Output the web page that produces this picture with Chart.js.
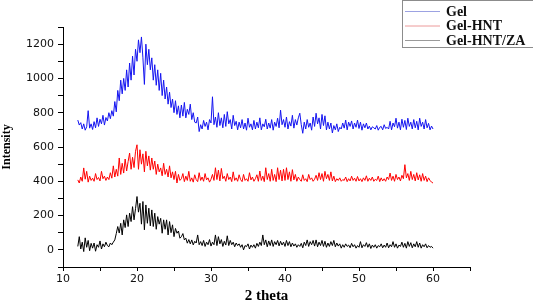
<!DOCTYPE html>
<html>
<head>
<meta charset="utf-8">
<script src="https://cdn.jsdelivr.net/npm/chart.js@4/dist/chart.umd.min.js"></script>
<style>
  html, body { margin: 0; padding: 0; background: #fff; }
  canvas { display: block; }
</style>
</head>
<body>
<canvas id="c" width="533" height="305"></canvas>
<script>
// ---- data ----
const seriesNames = ["Gel", "Gel-HNT", "Gel-HNT/ZA"];
const thetaStart = 12;   // first sampled 2θ
const thetaStep = 0.2;   // sampling step of 2θ

const gel = [
  757, 728, 742, 705, 735, 698, 718, 812, 710, 735,
  702, 748, 712, 770, 720, 762, 735, 785, 728, 772,
  752, 800, 765, 812, 780, 865, 805, 930, 870, 990,
  910, 1000, 930, 1050, 950, 1090, 990, 1130, 1020, 1170,
  1100, 1225, 1150, 1242, 1120, 965, 1200, 1080, 1170, 1050,
  1120, 990, 1080, 960, 1050, 930, 1030, 900, 990, 880,
  950, 850, 920, 830, 880, 800, 870, 790, 840, 770,
  845, 780, 860, 770, 820, 790, 850, 760, 800, 745,
  740, 775, 690, 730, 705, 755, 720, 745, 700, 760,
  740, 893, 730, 775, 715, 800, 725, 770, 712, 790,
  720, 806, 735, 760, 705, 785, 725, 750, 700, 745,
  712, 760, 705, 740, 698, 768, 715, 735, 700, 755,
  705, 745, 712, 770, 700, 735, 718, 762, 705, 740,
  710, 760, 698, 745, 720, 768, 712, 815, 730, 760,
  715, 775, 705, 748, 722, 785, 710, 760, 728, 770,
  797, 730, 680, 745, 705, 760, 715, 740, 698, 775,
  720, 797, 735, 770, 705, 790, 725, 782, 700, 745,
  705, 740, 682, 725, 700, 735, 690, 715, 705, 740,
  710, 757, 700, 745, 720, 752, 705, 740, 715, 757,
  708, 745, 698, 735, 712, 740, 705, 722, 700, 718,
  712, 705, 725, 698, 715, 720, 700, 730, 708, 715,
  705, 750, 700, 740, 718, 768, 710, 745, 700, 762,
  715, 755, 702, 768, 720, 745, 705, 760, 712, 750,
  700, 768, 720, 745, 705, 760, 712, 738, 700, 722,
  705
];

const gelHNT = [
  408, 390, 425, 400, 478, 412, 458, 395, 430, 405,
  418, 400, 445, 410, 422, 402, 458, 415, 430, 405,
  425, 410, 450, 418, 490, 425, 470, 430, 536, 440,
  505, 448, 530, 460, 515, 565, 470, 540, 480, 575,
  613, 470, 584, 500, 560, 455, 575, 490, 548, 465,
  536, 470, 518, 440, 500, 455, 478, 432, 505, 440,
  470, 425, 490, 420, 455, 410, 458, 390, 440, 405,
  415, 445, 398, 430, 405, 458, 400, 420, 395, 438,
  410, 398, 450, 405, 425, 400, 445, 408, 420, 395,
  412, 440, 405, 479, 410, 465, 402, 475, 415, 430,
  400, 445, 410, 425, 398, 455, 405, 420, 400, 438,
  410, 398, 440, 405, 415, 400, 450, 408, 425, 400,
  415, 438, 400, 460, 405, 430, 398, 479, 410, 445,
  400, 470, 405, 440, 398, 479, 410, 465, 402, 470,
  405, 479, 410, 455, 400, 468, 408, 440, 400, 425,
  410, 400, 438, 405, 415, 398, 440, 410, 420, 400,
  412, 435, 405, 450, 410, 445, 400, 458, 415, 440,
  405, 455, 402, 430, 398, 415, 405, 420, 400, 410,
  405, 425, 398, 415, 402, 430, 405, 418, 400, 428,
  402, 415, 398, 420, 405, 432, 400, 418, 405, 425,
  400, 412, 405, 430, 398, 420, 402, 415, 400, 425,
  410, 448, 405, 430, 400, 440, 410, 425, 402, 435,
  415, 497, 420, 445, 405, 458, 410, 440, 402, 450,
  408, 438, 400, 445, 405, 430, 398, 420, 405, 395,
  390
];

const gelHNTZA = [
  20, 77, 5, 45, -10, 70, 15, 55, -5, 38,
  10, 40, -8, 30, 15, 52, 5, 35, 18, 45,
  25, 18, 40, 30, 45, 58, 95, 136, 98, 155,
  87, 175, 130, 204, 136, 214, 165, 252, 175, 240,
  311, 220, 272, 150, 282, 117, 262, 155, 243, 140,
  233, 136, 214, 120, 194, 150, 184, 97, 175, 120,
  175, 87, 165, 100, 146, 77, 125, 97, 110, 68,
  77, 95, 58, 68, 39, 60, 35, 58, 29, 50,
  40, 87, 30, 48, 25, 55, 20, 45, 30, 60,
  22, 45, 30, 87, 25, 77, 35, 60, 20, 50,
  28, 82, 25, 55, 30, 45, 18, 40, 25, 35,
  15, 30, 0, 25, 19, 35, 5, 28, 15, 30,
  10, 38, 20, 45, 25, 87, 30, 58, 18, 52,
  25, 58, 20, 48, 30, 55, 23, 50, 28, 45,
  20, 55, 25, 48, 18, 40, 22, 35, 15, 30,
  20, 38, 12, 45, 25, 58, 20, 48, 30, 55,
  22, 58, 18, 45, 25, 55, 20, 50, 15, 40,
  20, 48, 25, 55, 18, 40, 22, 35, 10, 30,
  15, 35, 20, 28, 12, 38, 18, 30, 10, 25,
  15, 48, 12, 30, 20, 42, 15, 35, 8, 28,
  15, 30, 10, 25, 18, 35, 12, 28, 15, 40,
  12, 30, 18, 48, 15, 35, 10, 28, 20, 45,
  15, 38, 10, 48, 20, 42, 12, 35, 18, 48,
  15, 40, 10, 30, 18, 35, 12, 25, 15, 20,
  10
];

const xTickLabels = [10, 20, 30, 40, 50, 60];
const yTickLabels = [0, 200, 400, 600, 800, 1000, 1200];

// sampling grid of the diffractometer (x positions of the readings)
const twoTheta = gel.map((_, i) => +(thetaStart + i * thetaStep).toFixed(1));

const toPoints = arr => arr.map((v, i) => ({ x: twoTheta[i], y: v }));

// ---- styles ----
const lineColors = ["#1414f0", "#ff0000", "#000000"];
const legendLineColors = ["#9ca2e2", "#ec9a9a", "#9a9a9a"];

const legendBox = {
  id: "legendBox",
  afterDraw(chart) {
    const ctx = chart.ctx;
    ctx.save();
    ctx.strokeStyle = "#8c8c8c";
    ctx.lineWidth = 1;
    ctx.strokeRect(402.5, 0.5, 140, 47);
    const ys = [11, 25.5, 40];
    ctx.font = "bold 14px 'Liberation Serif', 'Times New Roman', serif";
    ctx.textBaseline = "middle";
    ctx.textAlign = "left";
    chart.data.datasets.forEach((ds, i) => {
      ctx.strokeStyle = legendLineColors[i];
      ctx.beginPath();
      ctx.moveTo(405, ys[i] + 0.5);
      ctx.lineTo(440, ys[i] + 0.5);
      ctx.stroke();
      ctx.fillStyle = "#111";
      ctx.fillText(ds.label, 446, ys[i] + 1);
    });
    ctx.restore();
  }
};

const tickFont = { family: "'DejaVu Sans', sans-serif", size: 11 };

new Chart(document.getElementById("c"), {
  type: "line",
  data: {
    datasets: [
      { label: seriesNames[0], data: toPoints(gel), borderColor: lineColors[0] },
      { label: seriesNames[1], data: toPoints(gelHNT), borderColor: lineColors[1] },
      { label: seriesNames[2], data: toPoints(gelHNTZA), borderColor: lineColors[2] }
    ].map(d => Object.assign(d, { borderWidth: 1, pointRadius: 0, tension: 0, fill: false }))
  },
  options: {
    responsive: false,
    devicePixelRatio: 1,
    animation: false,
    layout: { padding: { top: 27, right: 63, left: 0, bottom: 0 } },
    plugins: { legend: { display: false }, tooltip: { enabled: false } },
    scales: {
      x: {
        type: "linear",
        min: 10, max: 65,
        afterFit(s) { s.height = 38; },
        ticks: {
          stepSize: 5,
          autoSkip: false,
          maxRotation: 0,
          padding: 2,
          color: "#111",
          font: tickFont,
          callback: v => xTickLabels.includes(v) ? String(v) : ""
        },
        grid: { drawOnChartArea: false, drawTicks: true, tickLength: 4, color: "#000" },
        border: { display: true, color: "#000", width: 1 },
        title: {
          display: true, text: "2 theta", color: "#000",
          font: { family: "'Liberation Serif', 'Times New Roman', serif", size: 15, weight: "bold" },
          padding: { top: 0, bottom: 0 }
        }
      },
      y: {
        type: "linear",
        min: -100, max: 1300,
        afterFit(s) { s.width = 63; },
        ticks: {
          stepSize: 100,
          autoSkip: false,
          padding: 4,
          color: "#111",
          font: tickFont,
          callback: v => yTickLabels.includes(v) ? String(v) : ""
        },
        grid: { drawOnChartArea: false, drawTicks: true, tickLength: 5, color: "#000" },
        border: { display: true, color: "#000", width: 1 },
        title: {
          display: true, text: "Intensity", color: "#000",
          font: { family: "'Liberation Serif', 'Times New Roman', serif", size: 12, weight: "bold" },
          padding: { top: 0, bottom: 0 }
        }
      }
    }
  },
  plugins: [legendBox]
});
</script>
</body>
</html>
